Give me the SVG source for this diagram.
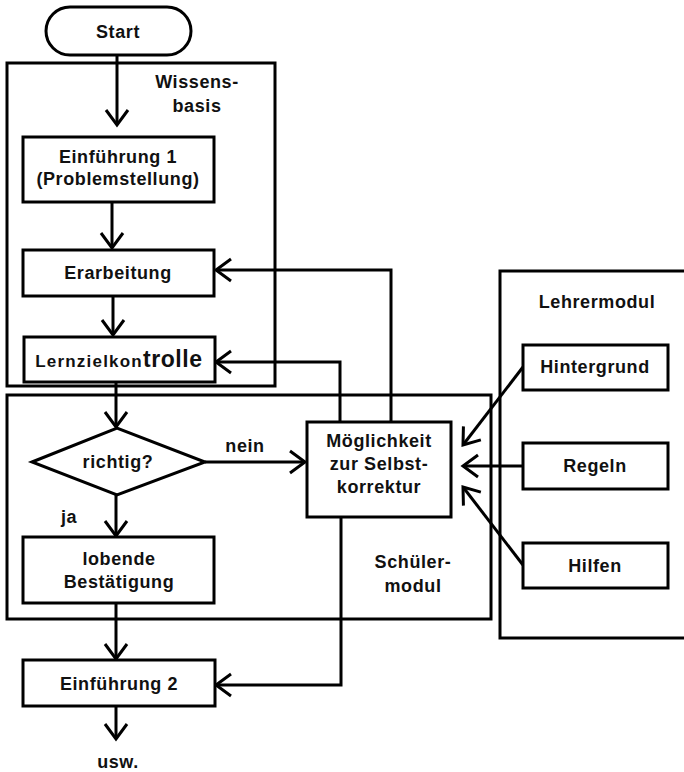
<svg xmlns="http://www.w3.org/2000/svg" width="684" height="772" viewBox="0 0 684 772">
<style>
  .box { fill: none; stroke: #000; stroke-width: 3; }
  .node { fill: #fff; stroke: #000; stroke-width: 3; }
  .t { font-family: "Liberation Sans", Arial, sans-serif; font-weight: bold; font-size: 18px; letter-spacing: 0.6px; text-anchor: middle; fill: #111; }
  .c { fill: none; stroke: #000; stroke-width: 3; marker-end: url(#arr); }
</style>
<defs>
  <marker id="arr" markerUnits="userSpaceOnUse" viewBox="-18 -14 21 28" refX="0" refY="0" markerWidth="21" markerHeight="28" orient="auto">
    <path d="M-15,-11 L0,0 L-15,11" fill="none" stroke="#000" stroke-width="3"/>
  </marker>
</defs>
<rect width="684" height="772" fill="#fff"/>

<g id="wissensbasis">
  <rect class="box" x="7" y="63" width="268" height="323"/>
  <text class="t" x="197" y="88">Wissens-</text>
  <text class="t" x="197" y="112">basis</text>
</g>
<g id="schuelermodul">
  <rect class="box" x="7" y="395" width="484" height="224"/>
  <text class="t" x="413" y="568">Schüler-</text>
  <text class="t" x="413" y="592">modul</text>
</g>
<g id="lehrermodul">
  <rect class="box" x="500" y="271" width="200" height="367"/>
  <text class="t" x="597" y="308">Lehrermodul</text>
</g>

<g id="connectors">
  <path class="c" d="M117,55 V125"/>
  <path class="c" d="M112,202 V248"/>
  <path class="c" d="M113,297 V335"/>
  <path class="c" d="M116,382 V427"/>
  <path class="c" d="M205,462 H305"/>
  <path class="c" d="M116,495 V536"/>
  <path class="c" d="M116,603 V659"/>
  <path class="c" d="M116,706 V739"/>
  <path class="c" d="M341,517 V685 H216"/>
  <path class="c" d="M391,422 V270 H216"/>
  <path class="c" d="M340,422 V362 H216"/>
  <path class="c" d="M523,367 L463,445"/>
  <path class="c" d="M523,466 L463,466"/>
  <path class="c" d="M523,565 L463,487"/>
</g>

<g id="start">
  <rect class="node" x="46" y="7" width="145" height="48" rx="24"/>
  <text class="t" x="118" y="38">Start</text>
</g>
<g id="einfuehrung1">
  <rect class="node" x="23" y="137" width="191" height="65"/>
  <text class="t" x="118" y="163">Einführung 1</text>
  <text class="t" x="118" y="185">(Problemstellung)</text>
</g>
<g id="erarbeitung">
  <rect class="node" x="23" y="250" width="191" height="46"/>
  <text class="t" x="118" y="279">Erarbeitung</text>
</g>
<g id="lernzielkontrolle">
  <rect class="node" x="24" y="337" width="191" height="45"/>
  <text class="t" x="119" y="367"><tspan font-size="17" letter-spacing="1.2">Lernzielkon</tspan><tspan font-size="23" letter-spacing="0.6">trolle</tspan></text>
</g>
<g id="richtig">
  <polygon class="node" points="32,462 117,428 205,462 117,495"/>
  <text class="t" x="118" y="468">richtig?</text>
  <text class="t" x="245" y="452">nein</text>
  <text class="t" x="69" y="523">ja</text>
</g>
<g id="lobende">
  <rect class="node" x="23" y="537" width="191" height="66"/>
  <text class="t" x="119" y="565">lobende</text>
  <text class="t" x="119" y="588">Bestätigung</text>
</g>
<g id="einfuehrung2">
  <rect class="node" x="23" y="660" width="192" height="46"/>
  <text class="t" x="119" y="690">Einführung 2</text>
</g>
<g id="usw">
  <text class="t" x="118" y="768">usw.</text>
</g>
<g id="selbstkorrektur">
  <rect class="node" x="307" y="422" width="144" height="95"/>
  <text class="t" x="379" y="447">Möglichkeit</text>
  <text class="t" x="379" y="470">zur Selbst-</text>
  <text class="t" x="379" y="493">korrektur</text>
</g>
<g id="hintergrund">
  <rect class="node" x="523" y="345" width="145" height="45"/>
  <text class="t" x="595" y="373">Hintergrund</text>
</g>
<g id="regeln">
  <rect class="node" x="523" y="443" width="145" height="46"/>
  <text class="t" x="595" y="472">Regeln</text>
</g>
<g id="hilfen">
  <rect class="node" x="523" y="543" width="145" height="45"/>
  <text class="t" x="595" y="572">Hilfen</text>
</g>
</svg>
